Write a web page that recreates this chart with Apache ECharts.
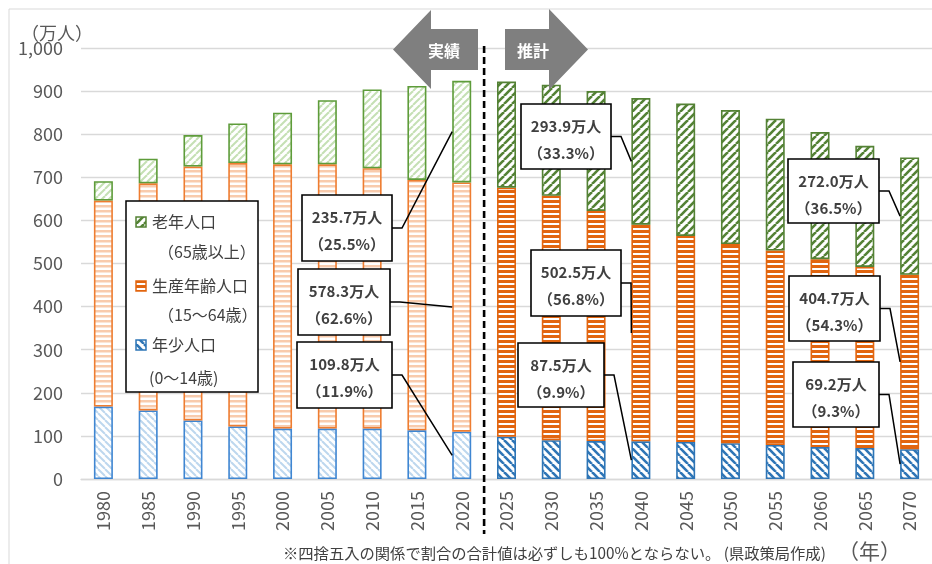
<!DOCTYPE html>
<html><head><meta charset="utf-8">
<script src="https://cdn.jsdelivr.net/npm/echarts@6/dist/echarts.min.js"></script>
<style>html,body{margin:0;padding:0;background:#fff}#c{width:932px;height:564px}</style>
</head><body><div id="c"></div><script>
// ---- data ----
const years = ['1980','1985','1990','1995','2000','2005','2010','2015','2020','2025','2030','2035','2040','2045','2050','2055','2060','2065','2070'];
const young   = [168,159,136,122,117,117,117,113,109.8, 98, 90, 88, 87.5, 86, 83, 79, 74, 72, 69.2];
const working = [478,527,589,611,613,613,604,581,578.3,578,567,534,502.5,478,462,451,436,420,404.7];
const elderly = [ 45, 57, 73, 92,120,149,183,218,235.7,246,258,278,293.9,307,311,306,295,281,272.0];
const seriesNames = ['年少人口','生産年齢人口','老年人口'];
const legendSub = ['(0～14歳)','（15～64歳）','（65歳以上）'];
const lastActualYear = '2020';
const yMin = 0, yMax = 1000, yStep = 100;
const callouts = [
  {year:'2020', seg:2, amount:'235.7万人', pct:'（25.5%）'},
  {year:'2020', seg:1, amount:'578.3万人', pct:'（62.6%）'},
  {year:'2020', seg:0, amount:'109.8万人', pct:'（11.9%）'},
  {year:'2040', seg:2, amount:'293.9万人', pct:'（33.3%）'},
  {year:'2040', seg:1, amount:'502.5万人', pct:'（56.8%）'},
  {year:'2040', seg:0, amount:'87.5万人',  pct:'（9.9%）'},
  {year:'2070', seg:2, amount:'272.0万人', pct:'（36.5%）'},
  {year:'2070', seg:1, amount:'404.7万人', pct:'（54.3%）'},
  {year:'2070', seg:0, amount:'69.2万人',  pct:'（9.3%）'}
];
const footnote = '※四捨五入の関係で割合の合計値は必ずしも100%とならない。 (県政策局作成)';
const xUnit = '（年）';
const yUnit = '（万人）';
const arrowTexts = ['実績','推計'];

// ---- layout / style ----
const boxes = [
  {x:302,y:195,w:90,h:66},{x:298,y:269,w:92,h:66},{x:297,y:342,w:95,h:66},
  {x:521,y:104,w:90,h:65},{x:531,y:250,w:90,h:66},{x:518,y:343,w:86,h:64},
  {x:788,y:159,w:91,h:64},{x:789,y:276,w:91,h:65},{x:793,y:362,w:86,h:65}
];
const FONT = "'Noto Sans CJK JP', sans-serif";
const BAR_W = 19;

function pattern(kind, fg, lw, p, bg) {
  const c = document.createElement('canvas');
  c.width = p; c.height = p;
  const g = c.getContext('2d');
  g.fillStyle = bg || '#fff'; g.fillRect(0,0,p,p);
  g.strokeStyle = fg; g.fillStyle = fg; g.lineWidth = lw;
  if (kind === 'h') {
    g.fillRect(0, 0, p, lw);
  } else {
    for (const k of [-p, 0, p]) {
      g.beginPath();
      if (kind === '/') { g.moveTo(k, p); g.lineTo(k + p, 0); }
      else { g.moveTo(k, 0); g.lineTo(k + p, p); }
      g.stroke();
    }
  }
  return {image: c, repeat: 'repeat'};
}
const styles = {
  past: [
    {color: pattern('\\', '#BDD7EE', 2, 7), borderColor: '#3F86D2', borderWidth: 1.6},
    {color: pattern('h', '#F8CBAD', 2.5, 5), borderColor: '#EE7D31', borderWidth: 1.6},
    {color: pattern('/', '#C5E0B4', 2, 7), borderColor: '#5E9C3A', borderWidth: 1.6}
  ],
  future: [
    {color: pattern('\\', '#2E75B6', 2.6, 8), borderColor: '#2E75B6', borderWidth: 1.6},
    {color: pattern('h', '#E2650F', 3, 5), borderColor: '#E2650F', borderWidth: 1.6},
    {color: pattern('/', '#548235', 2.6, 8), borderColor: '#548235', borderWidth: 1.6}
  ]
};
const lastIdx = years.indexOf(lastActualYear);
const segs = [young, working, elderly];

const chart = echarts.init(document.getElementById('c'), null, {renderer: 'canvas'});
chart.setOption({
  animation: false,
  textStyle: {fontFamily: FONT},
  grid: {left: 81, top: 48, width: 863, height: 431},
  xAxis: {
    type: 'category', data: years,
    axisTick: {show: false},
    axisLine: {lineStyle: {color: '#d9d9d9', width: 1.3}},
    axisLabel: {rotate: 90, fontSize: 18, color: '#595959', margin: 12, fontFamily: FONT}
  },
  yAxis: {
    type: 'value', min: yMin, max: yMax, interval: yStep,
    axisLine: {show: false}, axisTick: {show: false},
    splitLine: {lineStyle: {color: '#d9d9d9', width: 1.3}},
    axisLabel: {fontSize: 18, color: '#595959', margin: 18, fontFamily: FONT,
      formatter: v => v.toLocaleString('en-US')}
  },
  series: segs.map((arr, s) => ({
    name: seriesNames[s], type: 'bar', stack: 'pop', barWidth: BAR_W,
    data: arr.map((v, i) => ({value: v, itemStyle: i <= lastIdx ? styles.past[s] : styles.future[s]}))
  }))
});

// ---- decorations computed from scales ----
const g = [];
g.push({type:'rect', shape:{x:9,y:9,width:940,height:570}, style:{fill:'none', stroke:'#d9d9d9', lineWidth:1}, z:0});
// dashed separator
const pA = chart.convertToPixel({gridIndex:0}, [lastIdx, 0]);
const pB = chart.convertToPixel({gridIndex:0}, [lastIdx + 1, 0]);
const sepX = (pA[0] + pB[0]) / 2;
g.push({type:'line', shape:{x1:sepX, y1:46, x2:sepX, y2:534}, style:{stroke:'#000', lineWidth:2.6, lineDash:[7,4]}, z:50});
// arrows
g.push({type:'polygon', shape:{points:[[393,49.5],[431,10],[431,29],[478,29],[478,70],[431,70],[431,89]]}, style:{fill:'#7f7f7f'}, z:60});
g.push({type:'polygon', shape:{points:[[588,49.5],[549,9],[549,29],[505,29],[505,70],[549,70],[549,90]]}, style:{fill:'#7f7f7f'}, z:60});
g.push({type:'text', x:444, y:51, style:{text:arrowTexts[0], fill:'#fff', font:'bold 16px ' + FONT, align:'center', verticalAlign:'middle'}, z:61});
g.push({type:'text', x:533, y:51, style:{text:arrowTexts[1], fill:'#fff', font:'bold 16px ' + FONT, align:'center', verticalAlign:'middle'}, z:61});
// callouts
callouts.forEach((c, k) => {
  const b = boxes[k];
  const idx = years.indexOf(c.year);
  let base = 0;
  for (let s = 0; s < c.seg; s++) base += segs[s][idx];
  const mid = base + segs[c.seg][idx] / 2;
  const p = chart.convertToPixel({gridIndex:0}, [idx, mid]);
  const tx = p[0] - BAR_W / 2, ty = p[1];
  const my = b.y + b.h / 2, rx = b.x + b.w;
  g.push({type:'polyline', shape:{points:[[rx, my],[rx + 10, my],[tx, ty]]}, style:{stroke:'#000', lineWidth:1.5, fill:'none'}, z:70});
  g.push({type:'rect', shape:{x:b.x, y:b.y, width:b.w, height:b.h}, style:{fill:'#fff', stroke:'#000', lineWidth:1.6}, z:71});
  g.push({type:'text', x:b.x + b.w/2, y:b.y + 22, style:{text:c.amount, fill:'#404040', font:'bold 15px ' + FONT, align:'center', verticalAlign:'middle'}, z:72});
  g.push({type:'text', x:b.x + b.w/2, y:b.y + 49, style:{text:c.pct, fill:'#404040', font:'bold 15px ' + FONT, align:'center', verticalAlign:'middle'}, z:72});
});
// legend
g.push({type:'rect', shape:{x:126, y:201, width:132, height:191}, style:{fill:'#fff', stroke:'#000', lineWidth:1.5}, z:80});
const legRows = [
  {s:2, y:222, subX:158, subY:252},
  {s:1, y:286, subX:158, subY:315},
  {s:0, y:345, subX:149, subY:378}
];
legRows.forEach(r => {
  const st = styles.future[r.s];
  g.push({type:'rect', shape:{x:136, y:r.y - 5, width:10, height:10}, style:{fill:st.color, stroke:st.borderColor, lineWidth:1.5}, z:81});
  g.push({type:'text', x:152, y:r.y, style:{text:seriesNames[r.s], fill:'#404040', font:'16px ' + FONT, verticalAlign:'middle'}, z:81});
  g.push({type:'text', x:r.subX, y:r.subY, style:{text:legendSub[r.s], fill:'#404040', font:'16px ' + FONT, verticalAlign:'middle'}, z:81});
});
// units and footnote
g.push({type:'text', x:57, y:33, style:{text:yUnit, fill:'#595959', font:'18px ' + FONT, align:'center', verticalAlign:'middle'}, z:5});
g.push({type:'text', x:283, y:553, style:{text:footnote, fill:'#404040', font:'15.3px ' + FONT, align:'left', verticalAlign:'middle'}, z:5});
g.push({type:'text', x:838, y:551, style:{text:xUnit, fill:'#595959', font:'21px ' + FONT, align:'left', verticalAlign:'middle'}, z:5});
chart.setOption({graphic: g});
</script></body></html>
